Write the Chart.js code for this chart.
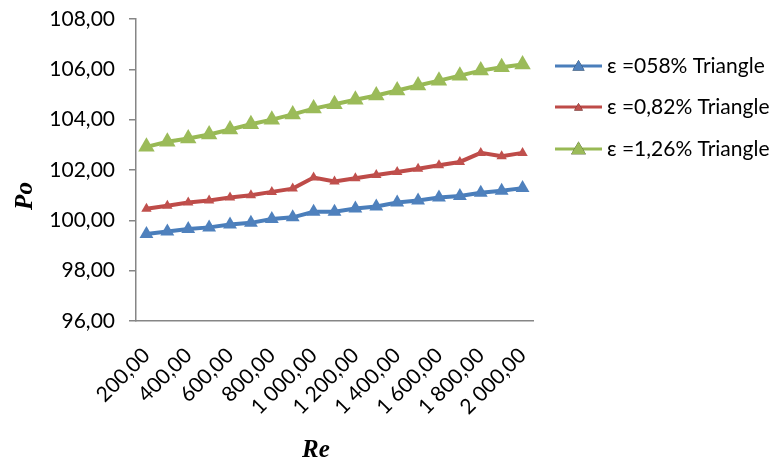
<!DOCTYPE html>
<html>
<head>
<meta charset="utf-8">
<script src="https://cdn.jsdelivr.net/npm/chart.js@4/dist/chart.umd.min.js"></script>
<style>
  html, body { margin: 0; padding: 0; background: #fff; }
  #c { display: block; }
</style>
</head>
<body>
<canvas id="c" width="775" height="466"></canvas>
<script>
// Reynolds numbers (x categories)
const reValues = [200, 300, 400, 500, 600, 700, 800, 900, 1000, 1100,
                  1200, 1300, 1400, 1500, 1600, 1700, 1800, 1900, 2000];

// Poiseuille number per roughness ratio
const poEps058 = [99.46, 99.56, 99.66, 99.72, 99.83, 99.90, 100.05, 100.12, 100.34, 100.34,
                  100.47, 100.55, 100.71, 100.79, 100.91, 100.97, 101.10, 101.18, 101.28];
const poEps082 = [100.46, 100.58, 100.71, 100.79, 100.91, 101.00, 101.13, 101.26, 101.70, 101.54,
                  101.67, 101.80, 101.92, 102.05, 102.19, 102.32, 102.68, 102.55, 102.68];
const poEps126 = [102.92, 103.12, 103.25, 103.41, 103.61, 103.82, 104.00, 104.21, 104.44, 104.61,
                  104.79, 104.96, 105.16, 105.36, 105.55, 105.75, 105.95, 106.08, 106.19];

const seriesNames = ['ε =058% Triangle', 'ε =0,82% Triangle', 'ε =1,26% Triangle'];

// y axis range
const yMin = 96, yMax = 108, yStep = 2;

const FONT = 'Lato, "Open Sans", sans-serif';
const AXIS_GREY = '#868686';

function fmt(v) {
  const parts = Number(v).toFixed(2).split('.');
  return parts[0].replace(/\B(?=(\d{3})+(?!\d))/g, ' ') + ',' + parts[1];
}

const colors = [
  { line: '#4A7EBB', fill: '#4F81BD', r: 8 },
  { line: '#BE4B48', fill: '#C0504D', r: 6 },
  { line: '#98B954', fill: '#9BBB59', r: 9.5 }
];

const seriesData = [poEps058, poEps082, poEps126];

const datasets = seriesData.map((d, i) => ({
  label: seriesNames[i],
  data: d,
  borderColor: colors[i].line,
  backgroundColor: colors[i].fill,
  pointBackgroundColor: colors[i].fill,
  pointBorderColor: colors[i].fill,
  pointBorderWidth: 0,
  pointStyle: 'triangle',
  pointRadius: colors[i].r,
  borderWidth: 4,
  tension: 0,
  fill: false
}));

// Legend on the right: line sample with triangle marker, then the series name
const sideLegend = {
  id: 'sideLegend',
  afterDraw(chart) {
    const ctx = chart.ctx;
    const rowsY = [66, 107, 149];
    const x0 = 555, x1 = 602, tx = 607;
    ctx.save();
    chart.data.datasets.forEach((ds, i) => {
      const y = rowsY[i];
      ctx.strokeStyle = ds.borderColor;
      ctx.lineWidth = 3;
      ctx.beginPath();
      ctx.moveTo(x0, y);
      ctx.lineTo(x1, y);
      ctx.stroke();
      Chart.helpers.drawPoint(ctx, {
        pointStyle: 'triangle',
        radius: ds.pointRadius - 1,
        borderWidth: 0,
        rotation: 0
      }, (x0 + x1) / 2, y + 1);
      ctx.fillStyle = ds.pointBackgroundColor;
      ctx.fill();
      ctx.fillStyle = '#000';
      ctx.font = '21px ' + FONT;
      ctx.textAlign = 'left';
      ctx.textBaseline = 'middle';
      ctx.fillText(ds.label, tx, y);
    });
    ctx.restore();
  }
};

// Axis titles
const axisTitles = {
  id: 'axisTitles',
  afterDraw(chart) {
    const ctx = chart.ctx;
    ctx.save();
    ctx.fillStyle = '#000';
    ctx.font = 'italic bold 25px "Liberation Serif", "Times New Roman", serif';
    ctx.textAlign = 'center';
    ctx.textBaseline = 'middle';
    ctx.fillText('Re', 316, 451);
    ctx.translate(26, 196);
    ctx.rotate(-Math.PI / 2);
    ctx.fillText('Po', 0, 0);
    ctx.restore();
  }
};

new Chart(document.getElementById('c'), {
  type: 'line',
  data: {
    labels: reValues.map(fmt),
    datasets: datasets
  },
  options: {
    responsive: false,
    devicePixelRatio: 1,
    animation: false,
    layout: { padding: { top: 19, right: 242, bottom: 0, left: 0 } },
    plugins: {
      legend: { display: false },
      tooltip: { enabled: false }
    },
    scales: {
      x: {
        type: 'category',
        offset: true,
        grid: { display: false },
        border: { display: true, color: AXIS_GREY, width: 1.5 },
        ticks: {
          autoSkip: false,
          maxRotation: 45,
          minRotation: 45,
          padding: 14,
          color: '#000',
          font: { family: FONT, size: 21 },
          callback: (v, i) => (i % 2 === 0 ? fmt(reValues[i]) : '')
        },
        afterFit(scale) { scale.height = 145; scale.paddingRight = 0; }
      },
      y: {
        min: yMin,
        max: yMax,
        grid: { display: true, drawOnChartArea: false, drawTicks: true, tickLength: 7, color: AXIS_GREY, lineWidth: 1.5 },
        border: { display: true, color: AXIS_GREY, width: 1.5 },
        ticks: {
          stepSize: yStep,
          padding: 14,
          color: '#000',
          font: { family: FONT, size: 21 },
          callback: (v) => fmt(v)
        },
        afterFit(scale) { scale.width = 136; scale.paddingTop = 0; scale.paddingBottom = 0; }
      }
    }
  },
  plugins: [sideLegend, axisTitles]
});
</script>
</body>
</html>
